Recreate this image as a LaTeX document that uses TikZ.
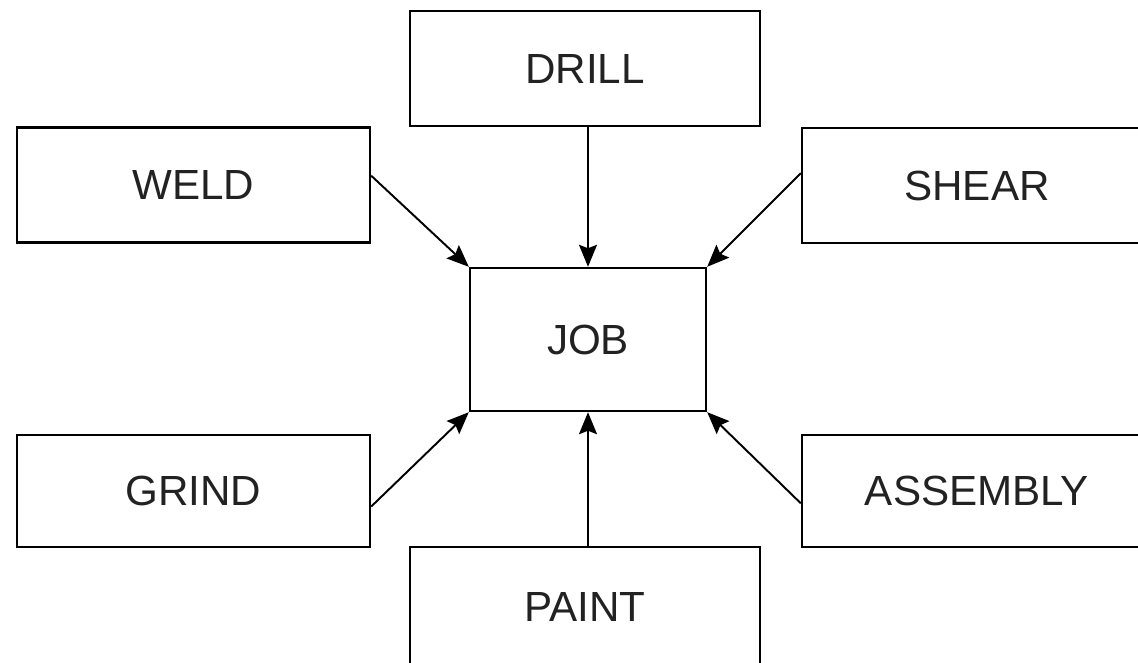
\documentclass[tikz,border=0pt]{standalone}
\usepackage{fontspec}
\setmainfont{Liberation Sans}
\usetikzlibrary{arrows.meta}
\definecolor{txt}{HTML}{222222}
\begin{document}
\begin{tikzpicture}[x=0.02cm,y=-0.02cm,
  box/.style={draw=black, line width=1.4pt, rectangle, inner sep=0pt,
    font=\fontsize{24}{28}\selectfont, text=txt},
  conn/.style={line width=1.1pt, -{Stealth[length=0.44cm,width=0.36cm,inset=0.07cm]}}]
\useasboundingbox (0,0) rectangle (1138,662);
\clip (0,0) rectangle (1138,662);
\node[box, minimum width=7cm, minimum height=2.3cm] (drill) at (585,68.5) {DRILL};
\node[box, minimum width=7.06cm, minimum height=2.3cm] (weld) at (193.5,185) {WELD};
\node[box, minimum width=7cm, minimum height=2.3cm] (shear) at (977,185.5) {SHEAR};
\node[box, minimum width=4.72cm, minimum height=2.86cm] (job) at (588,339.5) {JOB};
\node[box, minimum width=7.06cm, minimum height=2.24cm] (grind) at (193.5,491) {GRIND};
\node[box, minimum width=7cm, minimum height=2.24cm] (assembly) at (977,491) {ASSEMBLY};
\node[box, minimum width=7cm, minimum height=2.4cm] (paint) at (585,607) {PAINT};
\draw[conn] (job.north |- drill.south) -- (job.north);
\draw[conn] (job.south |- paint.north) -- (job.south);
\draw[conn] (weld.3) -- (job.north west);
\draw[conn] (shear.176) -- (job.north east);
\draw[conn] (grind.355) -- (job.south west);
\draw[conn] (assembly.184) -- (job.south east);
\end{tikzpicture}
\end{document}
